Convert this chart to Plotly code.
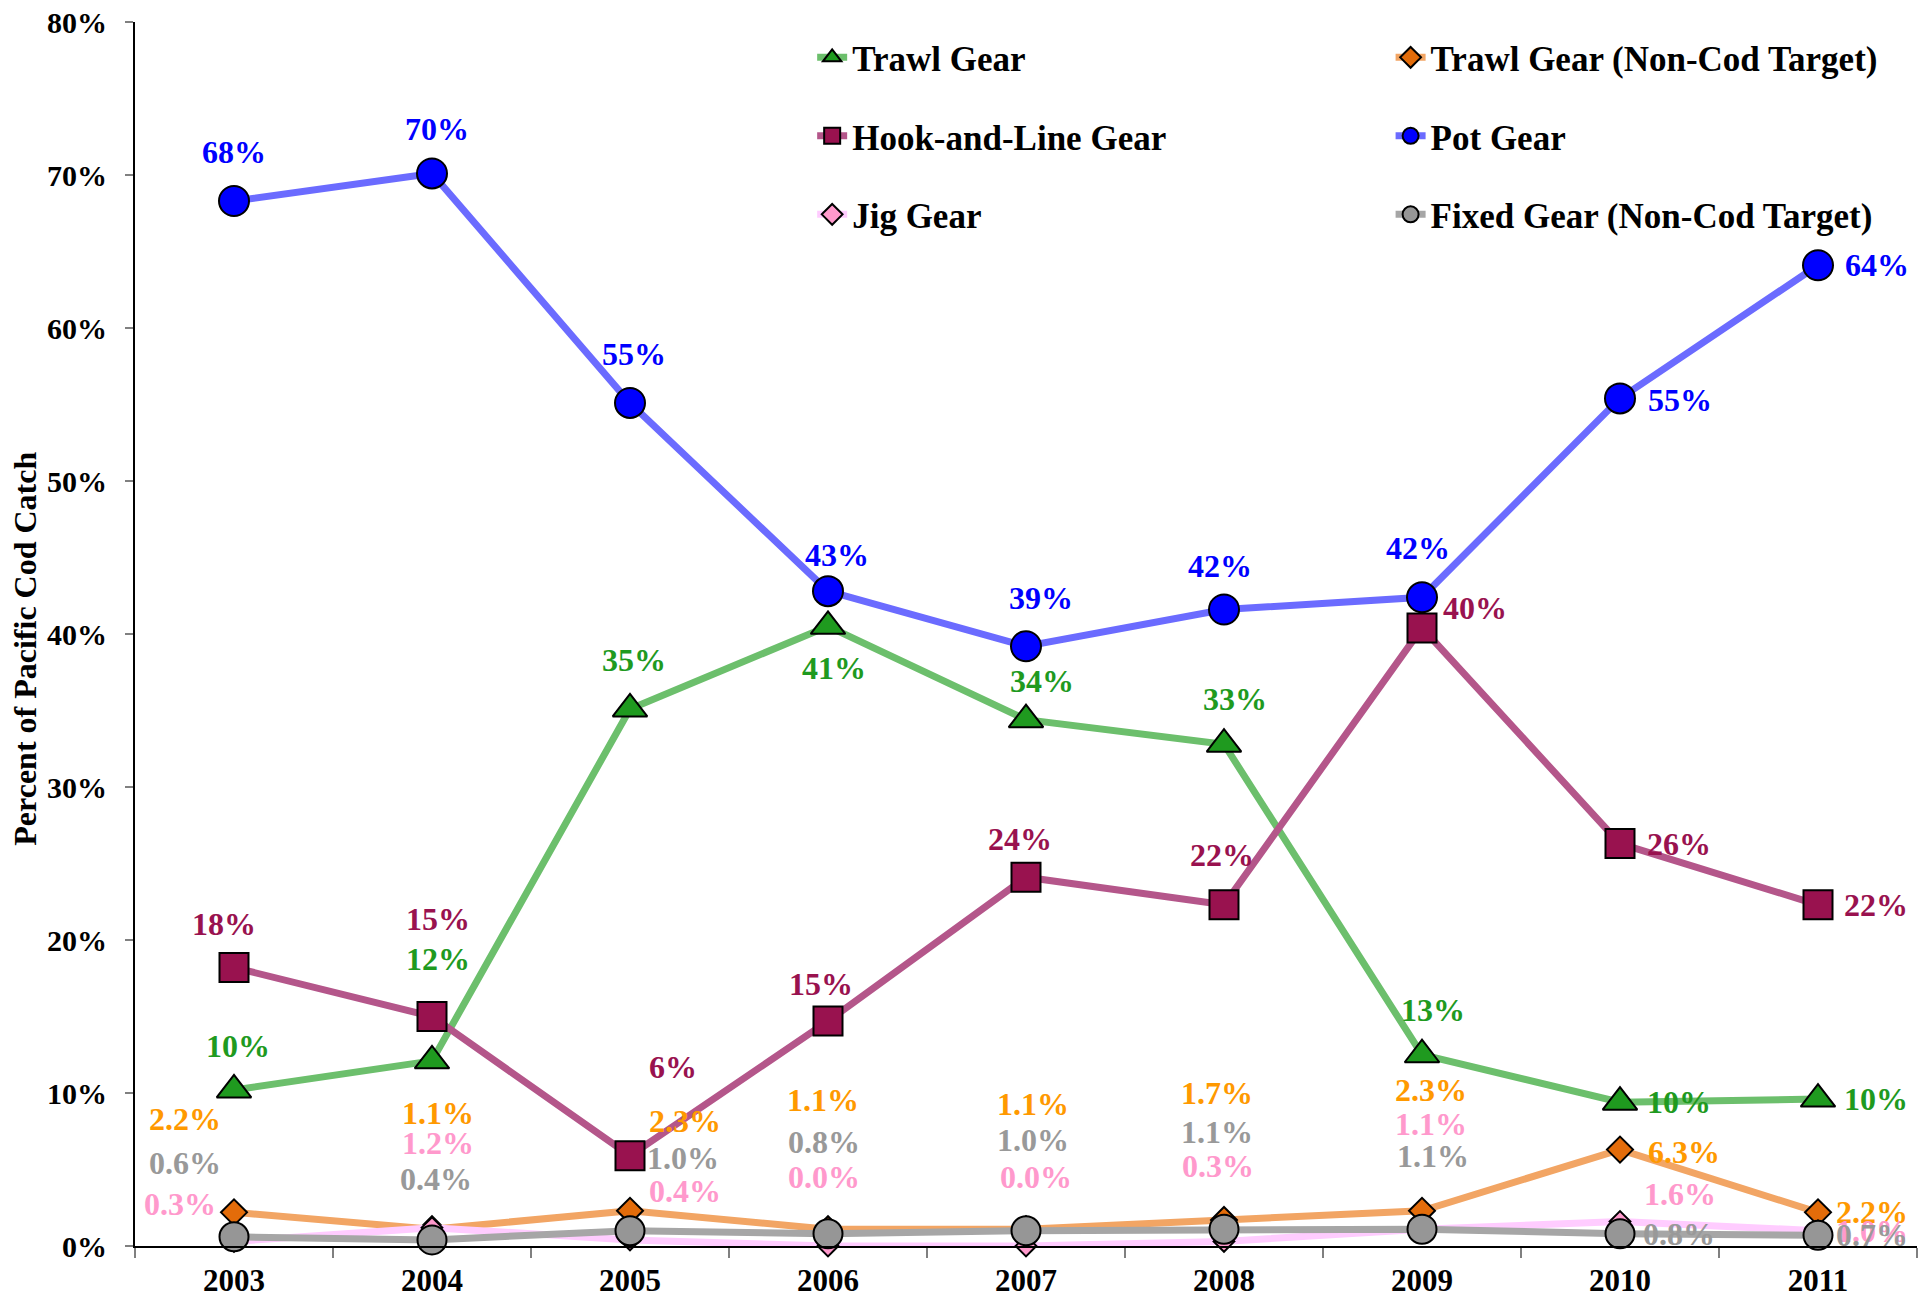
import plotly.graph_objects as go

years = ["2003", "2004", "2005", "2006", "2007", "2008", "2009", "2010", "2011"]

trawl = [10.2, 12.1, 35.1, 40.5, 34.4, 32.8, 12.5, 9.4, 9.6]
trawl_labels = ["10%", "12%", "35%", "41%", "34%", "33%", "13%", "10%", "10%"]

trawl_nc = [2.2, 1.1, 2.3, 1.1, 1.1, 1.7, 2.3, 6.3, 2.2]
trawl_nc_labels = ["2.2%", "1.1%", "2.3%", "1.1%", "1.1%", "1.7%", "2.3%", "6.3%", "2.2%"]

hook = [18.2, 15.0, 5.9, 14.7, 24.1, 22.3, 40.4, 26.3, 22.3]
hook_labels = ["18%", "15%", "6%", "15%", "24%", "22%", "40%", "26%", "22%"]

pot = [68.3, 70.1, 55.1, 42.8, 39.2, 41.6, 42.4, 55.4, 64.1]
pot_labels = ["68%", "70%", "55%", "43%", "39%", "42%", "42%", "55%", "64%"]

jig = [0.3, 1.2, 0.4, 0.0, 0.0, 0.3, 1.1, 1.6, 1.0]
jig_labels = ["0.3%", "1.2%", "0.4%", "0.0%", "0.0%", "0.3%", "1.1%", "1.6%", "1.0%"]

fixed = [0.6, 0.4, 1.0, 0.8, 1.0, 1.1, 1.1, 0.8, 0.7]
fixed_labels = ["0.6%", "0.4%", "1.0%", "0.8%", "1.0%", "1.1%", "1.1%", "0.8%", "0.7%"]

y_ticks = [0, 10, 20, 30, 40, 50, 60, 70, 80]
y_tick_labels = ["0%", "10%", "20%", "30%", "40%", "50%", "60%", "70%", "80%"]

FONT = "Liberation Serif"

series = [
    dict(name="Trawl Gear", y=trawl, lab=trawl_labels, lc="#6cbf6c", mc="#1f9a1f",
         sym="triangle-up", size=30, tc="#1f9a1f", legend="legend",
         off=[(4, 44), (6, 102), (4, 49), (6, -42), (16, 39), (11, 45), (11, 45), (59, 0), (58, 0)]),
    dict(name="Trawl Gear (Non-Cod Target)", y=trawl_nc, lab=trawl_nc_labels, lc="#f2a564", mc="#e36c0a",
         sym="diamond", size=20, tc="#ff9900", legend="legend2",
         off=[(-49, 93), (6, 116), (55, 90), (-5, 129), (7, 125), (-7, 127), (9, 121), (64, -2), (54, 0)]),
    dict(name="Hook-and-Line Gear", y=hook, lab=hook_labels, lc="#b4568a", mc="#99124f",
         sym="square", size=29, tc="#99124f", legend="legend",
         off=[(-10, 44), (6, 98), (43, 89), (-7, 37), (-6, 38), (-2, 50), (53, 20), (59, 0), (58, 0)]),
    dict(name="Pot Gear", y=pot, lab=pot_labels, lc="#6b6bff", mc="#0000ff",
         sym="circle", size=30, tc="#0000ff", legend="legend2",
         off=[(0, 49), (5, 44), (4, 49), (9, 36), (15, 48), (-4, 44), (-4, 49), (60, -2), (59, 0)]),
    dict(name="Jig Gear", y=jig, lab=jig_labels, lc="#ffccff", mc="#ff99cc",
         sym="diamond", size=16, tc="#ff99cc", legend="legend",
         off=[(-54, 37), (6, 85), (55, 49), (-4, 69), (10, 69), (-6, 75), (9, 105), (60, 28), (54, 0)]),
    dict(name="Fixed Gear (Non-Cod Target)", y=fixed, lab=fixed_labels, lc="#a6a6a6", mc="#969696",
         sym="circle", size=29, tc="#999999", legend="legend2",
         off=[(-49, 74), (4, 61), (53, 73), (-4, 92), (7, 91), (-7, 97), (11, 73), (59, 0), (54, 0)]),
]

fig = go.Figure()
annotations = []
for i, s in enumerate(series):
    fig.add_trace(go.Scatter(
        x=years, y=s["y"], name=s["name"], mode="lines+markers",
        line=dict(color=s["lc"], width=7),
        marker=dict(symbol=s["sym"], size=s["size"], color=s["mc"],
                    line=dict(color="black", width=2)),
        cliponaxis=False, legend=s["legend"], legendgroup="g%d" % i,
        hoverinfo="skip",
    ))
    for k, (yv, txt, (dx, dy)) in enumerate(zip(s["y"], s["lab"], s["off"])):
        annotations.append(dict(
            x=k, y=yv, xref="x", yref="y", text=txt, showarrow=False,
            xshift=dx, yshift=dy, xanchor="center", yanchor="middle",
            font=dict(family=FONT, size=32, color=s["tc"], weight="bold"),
        ))

annotations.append(dict(
    x=0, y=0.488, xref="paper", yref="paper", xshift=-110,
    text="Percent of Pacific Cod Catch", textangle=-90, showarrow=False,
    xanchor="center", yanchor="middle",
    font=dict(family=FONT, size=32, color="black", weight="bold"),
))

legend_style = dict(
    font=dict(family=FONT, size=35, color="black", weight="bold"),
    bgcolor="rgba(0,0,0,0)", tracegroupgap=30, itemwidth=30,
    xanchor="left", yanchor="top", orientation="v",
)

fig.update_layout(
    width=1928, height=1298,
    margin=dict(l=135, r=11, t=22, b=52, autoexpand=False),
    plot_bgcolor="white", paper_bgcolor="white",
    font=dict(family=FONT, size=30, color="black", weight="bold"),
    showlegend=True,
    legend=dict(x=0.380, y=0.995, **legend_style),
    legend2=dict(x=0.7046, y=0.995, **legend_style),
    annotations=annotations,
    xaxis=dict(
        type="category", categoryorder="array", categoryarray=years,
        range=[-0.5, len(years) - 0.5], autorange=False, automargin=False,
        showline=True, linecolor="black", linewidth=2,
        ticks="outside", ticklen=10, tickcolor="#808080", tickwidth=2,
        tickson="boundaries", showgrid=False, zeroline=False, tickangle=0,
        tickfont=dict(family=FONT, size=31, color="black", weight="bold"),
        ticklabelstandoff=6,
    ),
    yaxis=dict(
        range=[0, 80], autorange=False, automargin=False, tickmode="array",
        tickvals=y_ticks, ticktext=y_tick_labels,
        showline=True, linecolor="black", linewidth=2,
        ticks="outside", ticklen=8, tickcolor="#808080", tickwidth=2,
        showgrid=False, zeroline=False,
        tickfont=dict(family=FONT, size=30, color="black", weight="bold"),
        ticklabelstandoff=12,
    ),
)

fig.write_html(
    "out.html",
    config={"displayModeBar": False},
    post_script="document.body.style.margin='0';document.body.style.overflow='hidden';",
)
